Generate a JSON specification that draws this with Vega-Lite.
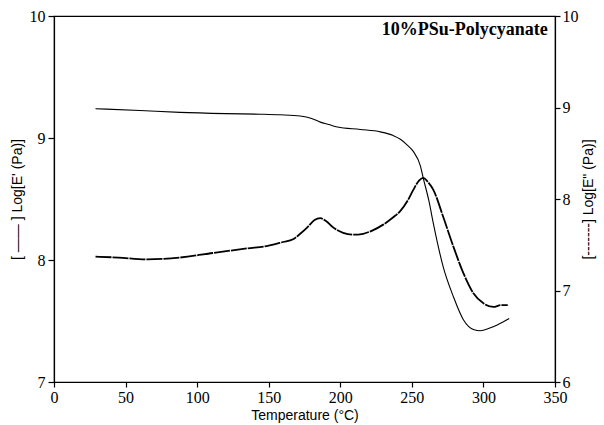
{
  "$schema": "https://vega.github.io/schema/vega-lite/v6.json",
  "width": 501,
  "height": 366,
  "autosize": "none",
  "padding": {"left": 54, "top": 16, "right": 49, "bottom": 43},
  "background": "white",
  "config": {
    "view": {"stroke": "black", "strokeWidth": 1.2},
    "axis": {
      "grid": false,
      "domainColor": "black",
      "domainWidth": 1.2,
      "tickColor": "black",
      "tickWidth": 1.2,
      "labelColor": "black",
      "titleColor": "black",
      "labelFont": "Liberation Serif",
      "labelFontSize": 16,
      "titleFont": "Liberation Sans",
      "titleFontSize": 14,
      "titleFontWeight": "normal"
    }
  },
  "datasets": {
    "storage": [
      {"T": 29, "v": 9.24}, {"T": 60, "v": 9.225}, {"T": 88, "v": 9.21}, {"T": 120, "v": 9.2},
      {"T": 144, "v": 9.195}, {"T": 158, "v": 9.19}, {"T": 172, "v": 9.18}, {"T": 180, "v": 9.16},
      {"T": 186, "v": 9.13}, {"T": 192, "v": 9.11}, {"T": 198, "v": 9.09}, {"T": 214, "v": 9.07},
      {"T": 228, "v": 9.05}, {"T": 237, "v": 9.02}, {"T": 242, "v": 8.99}, {"T": 247, "v": 8.94},
      {"T": 251, "v": 8.89}, {"T": 256, "v": 8.77}, {"T": 258, "v": 8.67}, {"T": 262, "v": 8.48},
      {"T": 265, "v": 8.3}, {"T": 272, "v": 7.94}, {"T": 279, "v": 7.7}, {"T": 286, "v": 7.51},
      {"T": 293, "v": 7.43}, {"T": 298, "v": 7.42}, {"T": 304, "v": 7.44}, {"T": 310, "v": 7.47},
      {"T": 318, "v": 7.52}
    ],
    "loss": [
      {"T": 29, "v": 7.37}, {"T": 45, "v": 7.36}, {"T": 65, "v": 7.34}, {"T": 88, "v": 7.36},
      {"T": 111, "v": 7.41}, {"T": 135, "v": 7.46}, {"T": 150, "v": 7.49}, {"T": 160, "v": 7.53},
      {"T": 167, "v": 7.56}, {"T": 172, "v": 7.62}, {"T": 177, "v": 7.69}, {"T": 182, "v": 7.77},
      {"T": 186, "v": 7.79}, {"T": 190, "v": 7.76}, {"T": 195, "v": 7.69}, {"T": 202, "v": 7.63},
      {"T": 209, "v": 7.61}, {"T": 216, "v": 7.62}, {"T": 223, "v": 7.66}, {"T": 230, "v": 7.72},
      {"T": 237, "v": 7.8}, {"T": 242, "v": 7.87}, {"T": 247, "v": 7.98}, {"T": 251, "v": 8.1},
      {"T": 255, "v": 8.2}, {"T": 258, "v": 8.23}, {"T": 261, "v": 8.19}, {"T": 265, "v": 8.1},
      {"T": 272, "v": 7.8}, {"T": 279, "v": 7.48}, {"T": 286, "v": 7.19}, {"T": 293, "v": 6.97},
      {"T": 300, "v": 6.86}, {"T": 307, "v": 6.82}, {"T": 312, "v": 6.84}, {"T": 317, "v": 6.84}
    ],
    "label": [
      {"T": 345, "v": 9.885, "text": "10%PSu-Polycyanate"}
    ]
  },
  "layer": [
    {
      "layer": [
        {
          "data": {"name": "storage"},
          "mark": {"type": "line", "color": "black", "strokeWidth": 1.1, "interpolate": "monotone"},
          "encoding": {
            "x": {
              "field": "T", "type": "quantitative",
              "scale": {"domain": [0, 350], "nice": false},
              "axis": {
                "title": "Temperature (°C)",
                "values": [0, 25, 50, 75, 100, 125, 150, 175, 200, 225, 250, 275, 300, 325, 350],
                "labelExpr": "datum.value % 50 == 0 ? datum.label : ''",
                "format": "d",
                "tickSize": 5,
                "labelPadding": 2,
                "titlePadding": 3,
                "labelFlush": false
              }
            },
            "y": {
              "field": "v", "type": "quantitative",
              "scale": {"domain": [7, 10], "nice": false, "zero": false},
              "axis": {
                "title": "[ —— ] Log[E' (Pa)]",
                "values": [7, 8, 9, 10],
                "format": "d",
                "tickSize": 6,
                "labelPadding": 3,
                "titlePadding": 5
              }
            }
          }
        },
        {
          "data": {"name": "label"},
          "mark": {"type": "text", "align": "right", "baseline": "middle", "font": "Liberation Serif", "fontSize": 18, "fontWeight": "bold", "color": "black"},
          "encoding": {
            "x": {"field": "T", "type": "quantitative"},
            "y": {"field": "v", "type": "quantitative"},
            "text": {"field": "text"}
          }
        }
      ]
    },
    {
      "data": {"name": "loss"},
      "mark": {"type": "line", "color": "black", "strokeWidth": 1.8, "interpolate": "monotone", "strokeDash": [16, 1]},
      "encoding": {
        "x": {"field": "T", "type": "quantitative"},
        "y": {
          "field": "v", "type": "quantitative",
          "scale": {"domain": [6, 10], "nice": false, "zero": false},
          "axis": {
            "orient": "right",
            "title": "[-------] Log[E\" (Pa)]",
            "titleAngle": 270,
            "values": [6, 6.5, 7, 7.5, 8, 8.5, 9, 9.5, 10],
            "labelExpr": "datum.value % 1 == 0 ? datum.label : ''",
            "format": "d",
            "tickSize": 5,
            "labelPadding": 2,
            "titlePadding": 17
          }
        }
      }
    }
  ],
  "resolve": {"scale": {"y": "independent"}}
}
